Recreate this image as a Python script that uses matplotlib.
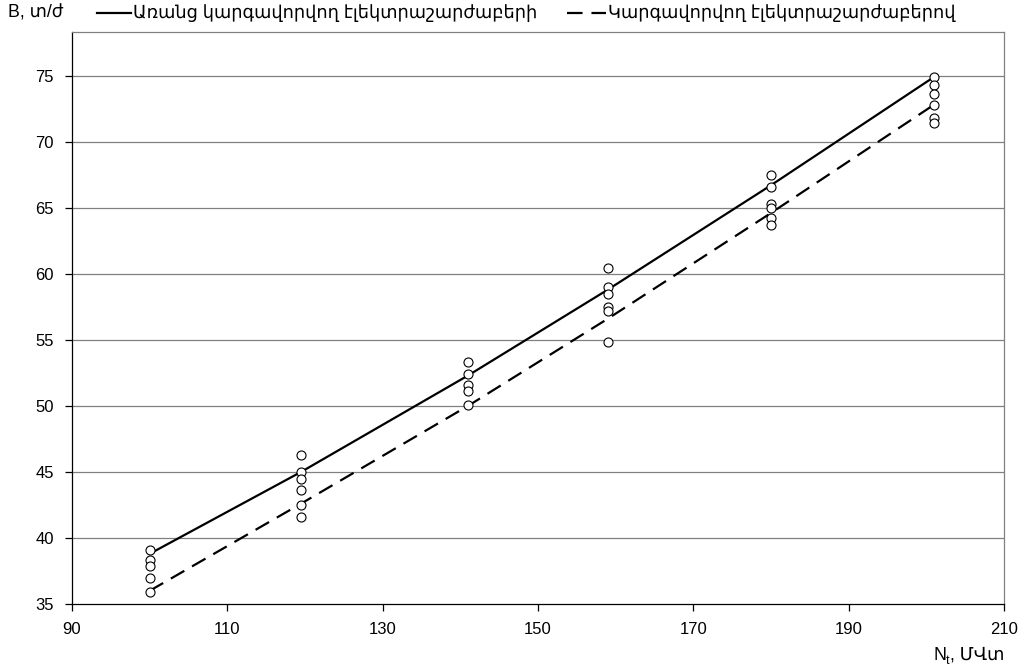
import matplotlib
matplotlib.use("Agg")
import matplotlib.pyplot as plt
from matplotlib.lines import Line2D

plt.rcParams['font.family'] = ['Liberation Sans', 'DejaVu Sans']

# Observed points (x = power, y = output)
pts_x = [100]*5 + [119.5]*6 + [141]*5 + [159]*6 + [180]*6 + [201]*6
pts_y = [39.1, 38.3, 37.9, 37.0, 35.9,
         46.3, 45.0, 44.5, 43.6, 42.5, 41.6,
         53.3, 52.4, 51.6, 51.1, 50.1,
         60.4, 59.0, 58.5, 57.5, 57.2, 54.8,
         67.5, 66.6, 65.3, 65.0, 64.2, 63.7,
         74.9, 74.3, 73.6, 72.8, 71.8, 71.4]

line_x = [100, 119.5, 141, 159, 180, 201]
line_without = [38.8, 45.0, 52.3, 58.8, 66.7, 74.9]
line_with = [36.0, 42.6, 50.0, 56.6, 64.6, 72.8]

xticks = [90, 110, 130, 150, 170, 190, 210]
yticks = [35, 40, 45, 50, 55, 60, 65, 70, 75]

label_without = "Առանց կարգավորվող էլեկտրաշարժաբերի"
label_with = "Կարգավորվող էլեկտրաշարժաբերով"

fig = plt.figure(figsize=(10.26, 6.70), dpi=100)
W, H = 1026, 670
ax = fig.add_axes([72/W, 1-604/H, (1004-72)/W, (604-32)/H])

grid_c = '#808080'
for yv in yticks[1:]:
    ax.axhline(yv, color=grid_c, lw=0.9, zorder=1)

ax.plot(line_x, line_without, color='black', lw=1.6, zorder=3)
ax.plot(line_x, line_with, color='black', lw=1.6, dashes=(7, 4), zorder=3)
ax.plot(pts_x, pts_y, linestyle='none', marker='o', ms=6.5, mfc='white',
        mec='black', mew=0.8, zorder=4)

ax.set_xlim(90, 210)
ax.set_ylim(35, 78.3)
ax.set_xticks(xticks)
ax.set_yticks(yticks)
ax.tick_params(axis='both', direction='out', length=5, width=0.9,
               labelsize=12, color='black', pad=8)
for s in ['left', 'bottom']:
    ax.spines[s].set_color('black')
    ax.spines[s].set_linewidth(0.9)
for s in ['top', 'right']:
    ax.spines[s].set_color(grid_c)
    ax.spines[s].set_linewidth(0.9)

fs = 12.8
fig.text(8/W, 1-13/H, "B, տ/ժ", fontsize=fs, va='center', ha='left')
# legend
fig.add_artist(Line2D([97/W, 131/W], [1-13/H, 1-13/H], color='black', lw=1.6))
fig.text(133/W, 1-13/H, label_without, fontsize=fs, va='center', ha='left')
fig.add_artist(Line2D([567/W, 606/W], [1-13/H, 1-13/H], color='black', lw=1.6,
                      dashes=(7, 4)))
t2 = fig.text(608/W, 1-13/H, label_with, fontsize=fs, va='center', ha='left')

# x-axis title: N_t, ՄՎտ built from pieces
renderer = fig.canvas.get_renderer()
ybase = 1 - 660/H
tail = fig.text(1004/W, ybase, ", ՄՎտ", fontsize=fs, va='baseline', ha='right')
bb = tail.get_window_extent(renderer)
sub = fig.text(bb.x0/W, ybase - 4/H, "t", fontsize=fs*0.7, va='baseline', ha='right')
bb2 = sub.get_window_extent(renderer)
fig.text(bb2.x0/W, ybase, "N", fontsize=fs, va='baseline', ha='right')

fig.savefig("out.png", dpi=100)
